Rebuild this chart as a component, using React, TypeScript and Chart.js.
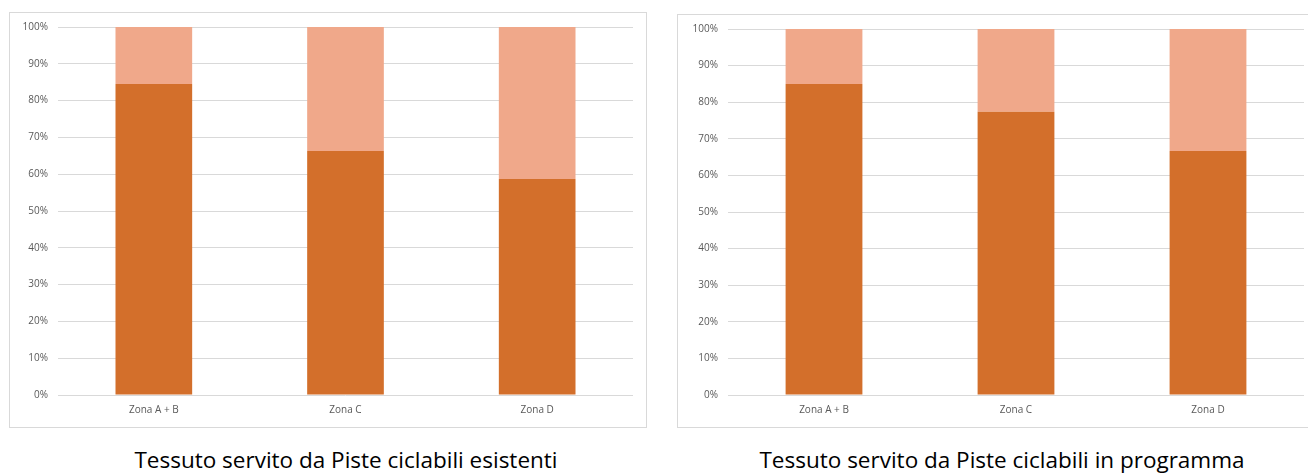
import React, { useEffect, useRef } from "react";
import { Chart, registerables } from "chart.js";

Chart.register(...registerables);

const categories = ["Zona A + B", "Zona C", "Zona D"];
const yTicks = [0, 10, 20, 30, 40, 50, 60, 70, 80, 90, 100];

const existingServed = [84.5, 66.3, 58.7];
const existingRest = [15.5, 33.7, 41.3];

const plannedServed = [85, 77.4, 66.7];
const plannedRest = [15, 22.6, 33.3];

const captions = [
  "Tessuto servito da Piste ciclabili esistenti",
  "Tessuto servito da Piste ciclabili in programma",
];

const DARK = "#D36F2B";
const LIGHT = "#F0A88A";

type Props = {
  served: number[];
  rest: number[];
  width: number;
  height: number;
  yAxisWidth: number;
  padTop: number;
  padRight: number;
  xAxisHeight: number;
};

function StackedChart({ served, rest, width, height, yAxisWidth, padTop, padRight, xAxisHeight }: Props) {
  const ref = useRef<HTMLCanvasElement | null>(null);
  useEffect(() => {
    if (!ref.current) return;
    const chart = new Chart(ref.current, {
      type: "bar",
      data: {
        labels: categories,
        datasets: [
          {
            data: served,
            backgroundColor: DARK,
            borderWidth: 0,
            barPercentage: 0.4,
            categoryPercentage: 1,
          },
          {
            data: rest,
            backgroundColor: LIGHT,
            borderWidth: 0,
            barPercentage: 0.4,
            categoryPercentage: 1,
          },
        ],
      },
      options: {
        animation: false,
        responsive: false,
        maintainAspectRatio: false,
        layout: { padding: { top: padTop, right: padRight, left: 0, bottom: 0 } },
        plugins: { legend: { display: false }, tooltip: { enabled: false } },
        scales: {
          x: {
            stacked: true,
            grid: { display: false, drawTicks: false },
            border: { display: false },
            ticks: {
              color: "#595959",
              font: { family: "'Open Sans', sans-serif", size: 10 },
              padding: 9,
            },
            afterFit: (s: any) => {
              s.height = xAxisHeight;
              s.paddingLeft = 0;
              s.paddingRight = 0;
            },
          },
          y: {
            stacked: true,
            min: 0,
            max: 100,
            afterBuildTicks: (s: any) => {
              s.ticks = yTicks.map((v) => ({ value: v }));
            },
            grid: { color: "#D9D9D9", lineWidth: 1, drawTicks: false },
            border: { display: false },
            ticks: {
              color: "#595959",
              font: { family: "'Open Sans', sans-serif", size: 10 },
              padding: 10,
              callback: (v: any) => v + "%",
            },
            afterFit: (s: any) => {
              s.width = yAxisWidth;
              s.paddingTop = 0;
              s.paddingBottom = 0;
            },
          },
        },
      },
    });
    return () => chart.destroy();
  }, []);
  return <canvas ref={ref} width={width} height={height} style={{ width, height, display: "block" }} />;
}

export default function App() {
  return (
    <div
      style={{
        position: "absolute",
        left: 0,
        top: 0,
        width: 1308,
        height: 473,
        overflow: "hidden",
        background: "#fff",
      }}
    >
      <div
        style={{
          position: "absolute",
          left: 9,
          top: 12,
          width: 636,
          height: 414,
          border: "1px solid #D9D9D9",
        }}
      >
        <StackedChart
          served={existingServed}
          rest={existingRest}
          width={636}
          height={414}
          yAxisWidth={48}
          padTop={14}
          padRight={13}
          xAxisHeight={32}
        />
      </div>
      <div
        style={{
          position: "absolute",
          left: 677,
          top: 14,
          width: 638,
          height: 412,
          border: "1px solid #D9D9D9",
        }}
      >
        <StackedChart
          served={plannedServed}
          rest={plannedRest}
          width={638}
          height={412}
          yAxisWidth={50}
          padTop={14}
          padRight={12}
          xAxisHeight={32}
        />
      </div>
      {captions.map((c, i) => (
        <div
          key={i}
          style={{
            position: "absolute",
            left: i === 0 ? 46 : 702,
            width: 600,
            top: 445,
            textAlign: "center",
            fontFamily: "'Open Sans', sans-serif",
            fontSize: 22.5,
            lineHeight: "30px",
            color: "#000",
            whiteSpace: "nowrap",
          }}
        >
          {c}
        </div>
      ))}
    </div>
  );
}
